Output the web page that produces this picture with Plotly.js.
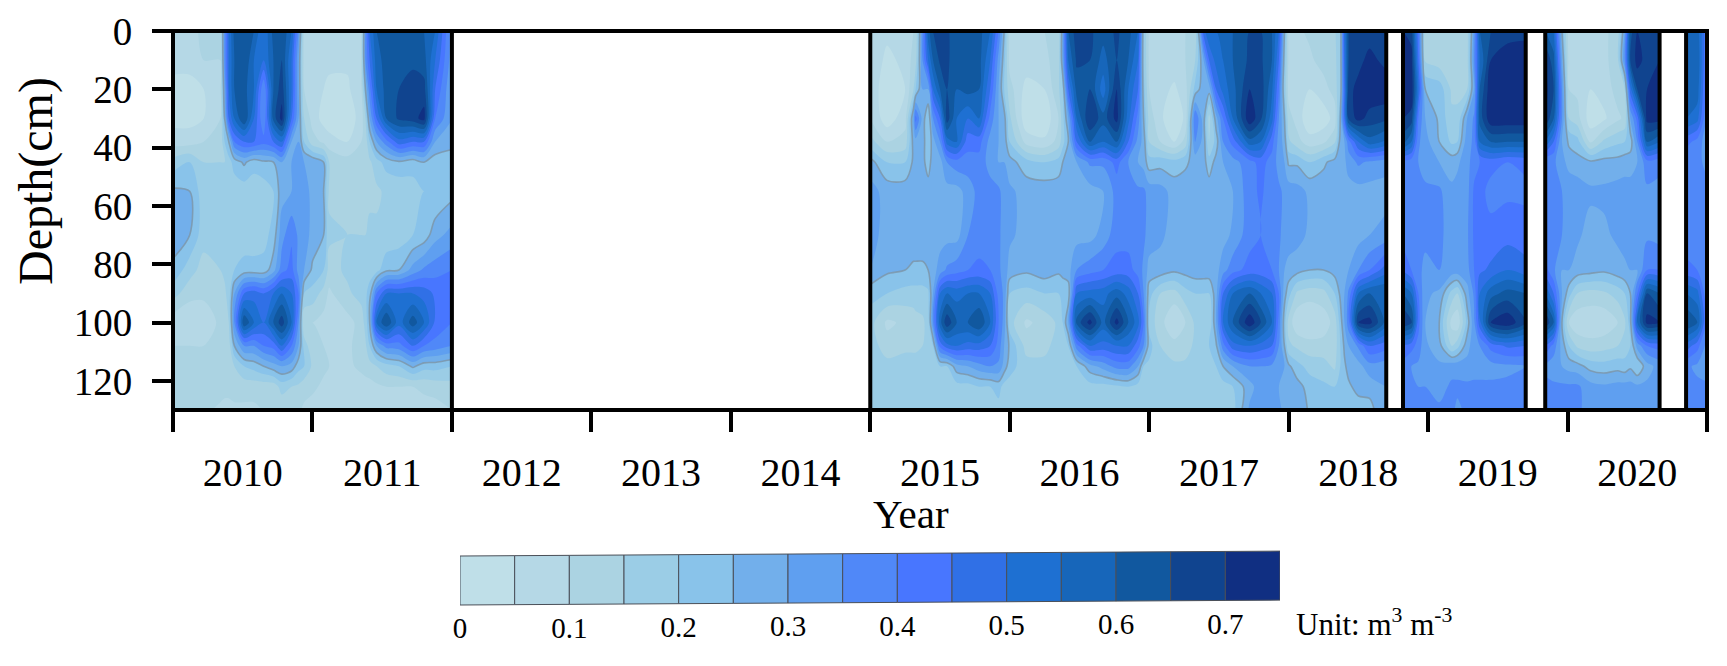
<!DOCTYPE html>
<html>
<head>
<meta charset="utf-8">
<script src="https://cdn.plot.ly/plotly-3.0.1.min.js"></script>
<style>html,body{margin:0;padding:0;background:#fff}#chart{width:1727px;height:666px}</style>
</head>
<body>
<div id="chart"></div>
<script>
// Depth of each value inside a profile (cm)
const depths = [0,10,20,30,38,45,55,70,82,90,100,108,115,122,130];

// Sampling times and soil-moisture profiles of each continuous period
const times2010 = [2010,2010.12,2010.22,2010.34,2010.37,2010.40,2010.44,2010.51,2010.58,2010.65,2010.72,2010.78,2010.85,2010.90,2010.94,2011,
  2011.08,2011.12,2011.25,2011.35,2011.38,2011.41,2011.46,2011.53,2011.62,2011.72,2011.8,2011.88,2012];
const profiles2010 = [
[.07,.07,.03,.03,.08,.17,.26,.27,.24,.17,.07,.10,.15,.12,.12],
[.07,.07,.03,.03,.08,.20,.25,.25,.17,.12,.05,.10,.12,.12,.12],
[.12,.10,.05,.05,.10,.15,.17,.17,.13,.11,.07,.10,.12,.11,.11],
[.12,.10,.09,.10,.11,.15,.17,.17,.15,.12,.11,.11,.12,.12,.09],
[.35,.35,.30,.25,.20,.15,.17,.17,.16,.14,.12,.11,.12,.11,.09],
[.50,.50,.50,.45,.25,.18,.18,.17,.17,.17,.15,.12,.12,.11,.09],
[.62,.60,.60,.55,.40,.22,.17,.17,.20,.30,.35,.25,.15,.12,.09],
[.65,.65,.62,.65,.45,.26,.17,.17,.22,.45,.65,.35,.20,.12,.09],
[.60,.55,.55,.50,.45,.22,.17,.17,.22,.48,.55,.35,.22,.12,.09],
[.50,.50,.35,.35,.42,.24,.17,.18,.22,.45,.50,.40,.25,.12,.10],
[.62,.60,.60,.62,.45,.25,.20,.22,.28,.50,.60,.42,.28,.12,.10],
[.65,.65,.68,.72,.50,.30,.28,.33,.38,.55,.68,.50,.30,.17,.11],
[.55,.50,.50,.45,.30,.30,.30,.39,.42,.50,.55,.40,.28,.15,.11],
[.35,.30,.30,.30,.30,.33,.35,.34,.33,.40,.35,.30,.22,.14,.11],
[.08,.08,.10,.15,.20,.30,.33,.33,.30,.20,.10,.18,.20,.12,.09],
[.07,.07,.07,.08,.12,.29,.28,.28,.24,.18,.10,.11,.14,.11,.08],
[.07,.07,.05,.03,.09,.25,.25,.25,.20,.13,.08,.10,.11,.09,.07],
[.07,.07,.03,.02,.07,.15,.14,.16,.13,.09,.08,.09,.10,.08,.07],
[.07,.06,.04,.02,.05,.12,.12,.15,.16,.14,.08,.09,.09,.08,.07],
[.10,.10,.09,.07,.10,.13,.13,.15,.16,.17,.12,.12,.11,.08,.07],
[.35,.35,.25,.15,.12,.13,.13,.15,.17,.19,.17,.14,.12,.08,.07],
[.50,.45,.38,.30,.20,.14,.14,.16,.18,.22,.25,.20,.13,.08,.07],
[.60,.58,.55,.45,.30,.18,.14,.16,.18,.40,.55,.30,.15,.09,.07],
[.62,.62,.62,.60,.38,.22,.16,.16,.24,.50,.65,.37,.18,.10,.08],
[.62,.62,.65,.66,.48,.24,.16,.17,.25,.50,.52,.38,.20,.10,.08],
[.62,.64,.67,.68,.45,.22,.18,.20,.32,.50,.63,.45,.26,.10,.08],
[.60,.62,.67,.72,.45,.25,.20,.22,.36,.48,.55,.40,.22,.11,.08],
[.55,.50,.45,.40,.30,.22,.20,.28,.38,.44,.44,.38,.22,.12,.08],
[.32,.32,.30,.30,.28,.20,.23,.32,.40,.42,.40,.35,.20,.13,.10]
];

const times2015 = [2015,2015.12,2015.25,2015.31,2015.325,2015.375,2015.415,2015.45,2015.5,2015.55,2015.62,2015.7,2015.78,2015.86,2015.92,2015.96,
  2016,2016.12,2016.25,2016.35,2016.38,2016.42,2016.48,2016.575,2016.67,2016.767,2016.85,2016.92,2016.96,
  2017,2017.08,2017.18,2017.26,2017.33,2017.39,2017.43,2017.48,2017.53,2017.6,2017.72,2017.8,2017.88,2017.93,2017.97,
  2018,2018.06,2018.15,2018.25,2018.33,2018.37,2018.4,2018.43,2018.5,2018.58,2018.7];
const profiles2015 = [
[.08,.08,.08,.10,.17,.27,.32,.32,.30,.22,.17,.18,.20,.18,.18],
[.06,.04,.02,.02,.10,.20,.28,.28,.26,.20,.09,.12,.17,.17,.17],
[.08,.06,.05,.08,.12,.20,.28,.28,.25,.18,.11,.14,.17,.18,.18],
[.10,.12,.15,.30,.27,.26,.28,.28,.24,.18,.12,.14,.17,.18,.18],
[.11,.13,.20,.42,.28,.26,.28,.28,.24,.18,.13,.14,.17,.18,.18],
[.35,.35,.30,.28,.28,.27,.28,.28,.24,.18,.14,.15,.17,.18,.18],
[.58,.50,.30,.20,.20,.22,.28,.28,.25,.19,.17,.16,.17,.18,.18],
[.65,.60,.50,.35,.28,.28,.28,.28,.28,.30,.35,.20,.17,.18,.18],
[.66,.66,.60,.45,.35,.28,.28,.28,.32,.50,.58,.42,.20,.18,.18],
[.66,.66,.65,.68,.52,.35,.28,.28,.36,.55,.69,.48,.20,.18,.18],
[.62,.62,.60,.55,.55,.38,.28,.28,.38,.53,.60,.50,.28,.18,.18],
[.62,.62,.62,.50,.42,.38,.32,.35,.40,.55,.60,.48,.30,.18,.18],
[.62,.62,.60,.55,.42,.38,.37,.38,.41,.55,.65,.48,.33,.20,.18],
[.55,.50,.45,.38,.33,.33,.37,.37,.40,.50,.55,.45,.35,.20,.18],
[.40,.33,.30,.30,.30,.30,.36,.36,.36,.38,.40,.38,.34,.22,.18],
[.25,.22,.20,.27,.28,.30,.33,.33,.33,.34,.33,.30,.28,.18,.18],
[.09,.08,.12,.16,.20,.27,.31,.31,.28,.20,.17,.24,.22,.18,.18],
[.10,.08,.03,.01,.08,.22,.28,.28,.26,.18,.09,.13,.17,.18,.18],
[.10,.09,.05,.01,.06,.20,.28,.28,.28,.20,.12,.13,.17,.18,.18],
[.11,.12,.14,.10,.12,.22,.28,.28,.26,.20,.16,.18,.18,.18,.18],
[.30,.30,.20,.18,.18,.25,.28,.28,.27,.21,.20,.19,.18,.18,.18],
[.60,.55,.45,.30,.25,.28,.28,.28,.28,.22,.30,.20,.18,.18,.18],
[.68,.66,.62,.55,.45,.30,.28,.28,.35,.50,.62,.38,.20,.18,.18],
[.66,.65,.65,.70,.60,.36,.28,.28,.38,.52,.72,.50,.28,.18,.18],
[.62,.58,.52,.62,.55,.36,.30,.32,.40,.53,.58,.48,.32,.18,.18],
[.66,.65,.70,.72,.60,.42,.37,.38,.42,.58,.72,.50,.37,.19,.18],
[.62,.60,.55,.52,.45,.35,.37,.38,.42,.53,.60,.50,.37,.20,.18],
[.55,.50,.45,.38,.33,.30,.36,.37,.38,.45,.52,.42,.30,.18,.18],
[.20,.20,.22,.25,.28,.28,.36,.36,.34,.35,.40,.35,.20,.18,.18],
[.09,.09,.10,.13,.15,.22,.33,.33,.28,.22,.18,.22,.19,.18,.18],
[.10,.09,.07,.06,.10,.23,.32,.31,.28,.15,.12,.15,.16,.18,.18],
[.10,.08,.04,.01,.05,.22,.28,.28,.26,.13,.05,.12,.16,.18,.18],
[.10,.10,.08,.06,.12,.24,.28,.28,.27,.18,.10,.13,.16,.18,.18],
[.11,.15,.22,.40,.35,.27,.28,.28,.28,.20,.16,.16,.17,.18,.18],
[.48,.30,.28,.27,.28,.27,.28,.28,.28,.20,.16,.18,.18,.18,.18],
[.55,.45,.27,.13,.15,.22,.28,.28,.28,.20,.15,.20,.18,.18,.18],
[.55,.52,.45,.28,.22,.27,.28,.28,.28,.28,.30,.24,.20,.18,.18],
[.57,.55,.52,.40,.35,.30,.28,.28,.33,.45,.50,.38,.25,.18,.18],
[.60,.60,.58,.55,.42,.33,.30,.31,.38,.55,.60,.48,.30,.20,.18],
[.65,.66,.70,.74,.58,.38,.38,.38,.42,.60,.74,.50,.35,.28,.31],
[.65,.66,.68,.66,.55,.42,.41,.40,.42,.55,.65,.48,.35,.33,.33],
[.60,.60,.56,.52,.42,.38,.37,.37,.40,.50,.55,.45,.34,.33,.33],
[.50,.45,.40,.35,.33,.33,.36,.36,.35,.40,.38,.35,.33,.30,.32],
[.25,.22,.20,.25,.28,.30,.34,.33,.30,.27,.22,.25,.30,.28,.28],
[.09,.09,.08,.12,.16,.24,.33,.33,.28,.22,.13,.16,.26,.30,.30],
[.09,.09,.08,.08,.12,.24,.32,.32,.27,.14,.06,.14,.22,.27,.30],
[.11,.09,.05,.01,.07,.20,.29,.29,.25,.12,.05,.12,.18,.23,.24],
[.13,.12,.08,.02,.09,.24,.28,.28,.25,.13,.07,.12,.17,.21,.21],
[.14,.13,.12,.07,.14,.27,.28,.28,.27,.20,.12,.12,.14,.20,.21],
[.20,.20,.20,.25,.27,.28,.28,.28,.28,.26,.22,.20,.20,.22,.21],
[.50,.48,.45,.45,.30,.29,.28,.28,.29,.30,.30,.26,.24,.23,.22],
[.65,.65,.68,.66,.38,.32,.28,.28,.30,.36,.38,.30,.27,.24,.22],
[.67,.68,.72,.72,.50,.36,.28,.28,.35,.55,.70,.36,.28,.27,.22],
[.67,.72,.74,.68,.58,.34,.28,.30,.40,.60,.72,.45,.33,.27,.23],
[.67,.68,.74,.66,.54,.32,.28,.32,.48,.60,.58,.42,.32,.30,.30]
];

const times2019 = [2018.82,2018.88,2018.93,2018.98,2019.08,2019.17,2019.21,2019.28,2019.33,2019.37,2019.45,2019.57,2019.7];
const profiles2019 = [
[.70,.72,.74,.70,.62,.38,.36,.38,.44,.60,.70,.44,.38,.36,.36],
[.68,.72,.74,.68,.55,.37,.36,.37,.40,.55,.66,.42,.35,.36,.36],
[.42,.45,.50,.40,.36,.35,.36,.36,.36,.40,.42,.38,.34,.35,.36],
[.12,.14,.25,.30,.32,.33,.36,.36,.34,.31,.30,.31,.32,.35,.36],
[.12,.12,.23,.24,.25,.30,.36,.36,.35,.29,.25,.27,.31,.33,.36],
[.12,.12,.14,.16,.19,.28,.31,.33,.33,.18,.08,.15,.33,.36,.36],
[.12,.12,.14,.16,.20,.29,.32,.33,.33,.15,.06,.18,.33,.36,.34],
[.13,.13,.15,.30,.33,.33,.33,.34,.33,.28,.22,.28,.32,.36,.36],
[.32,.35,.30,.36,.36,.38,.41,.41,.40,.36,.34,.33,.33,.36,.36],
[.60,.55,.60,.62,.55,.40,.42,.42,.44,.50,.48,.35,.33,.36,.36],
[.65,.70,.74,.74,.60,.42,.38,.42,.46,.58,.70,.42,.33,.36,.36],
[.67,.74,.74,.74,.60,.40,.39,.43,.50,.62,.74,.46,.34,.36,.36],
[.68,.74,.74,.74,.60,.41,.39,.42,.47,.60,.65,.45,.35,.36,.36]
];

const times2020 = [2019.84,2019.9,2019.96,2020.01,2020.07,2020.165,2020.26,2020.36,2020.41,2020.45,2020.5,2020.57,2020.66];
const profiles2020 = [
[.60,.70,.72,.70,.55,.35,.38,.38,.42,.55,.70,.45,.34,.36,.36],
[.55,.62,.65,.60,.45,.36,.37,.37,.36,.45,.60,.38,.32,.36,.36],
[.25,.30,.35,.35,.30,.32,.35,.35,.30,.30,.25,.28,.30,.36,.36],
[.07,.08,.10,.15,.24,.28,.34,.33,.30,.22,.10,.20,.28,.36,.36],
[.06,.07,.09,.12,.22,.27,.33,.31,.28,.15,.06,.14,.27,.36,.36],
[.07,.07,.05,.02,.09,.26,.31,.28,.27,.13,.06,.12,.23,.32,.33],
[.09,.08,.07,.04,.16,.27,.31,.29,.26,.14,.06,.13,.22,.31,.33],
[.12,.14,.12,.09,.19,.27,.32,.31,.28,.17,.10,.15,.23,.32,.33],
[.30,.35,.15,.11,.20,.28,.32,.32,.29,.20,.14,.17,.22,.32,.33],
[.63,.65,.48,.30,.22,.28,.32,.32,.30,.25,.23,.20,.24,.32,.33],
[.70,.72,.65,.42,.35,.30,.32,.32,.30,.40,.55,.32,.20,.31,.33],
[.66,.68,.70,.72,.60,.38,.34,.34,.40,.65,.72,.40,.28,.31,.33],
[.66,.70,.72,.72,.55,.36,.34,.33,.40,.60,.70,.42,.32,.31,.33]
];

const times2021 = [2020.85,2020.93,2021];
const profiles2021 = [
[.58,.60,.60,.55,.42,.36,.36,.36,.42,.55,.65,.48,.36,.36,.36],
[.58,.60,.58,.52,.38,.36,.36,.36,.40,.52,.60,.42,.34,.36,.36],
[.40,.38,.36,.34,.32,.34,.36,.36,.36,.35,.38,.33,.32,.36,.36]
];

// Unmeasured periods, drawn as boxed blanks
const gapStarts = [2012,2018.7,2019.7,2020.66];
const gapEnds   = [2015,2018.82,2019.84,2020.85];

// Axis labels
const yearTicks = [2010,2011,2012,2013,2014,2015,2016,2017,2018,2019,2020,2021];
const yearLabels = ['2010','2011','2012','2013','2014','2015','2016','2017','2018','2019','2020'];
const depthTicks = [0,20,40,60,80,100,120];

// Colour classes
const levelStep = 0.05;
const levelColors = ['#BFDFE8','#B5D8E6','#ABD3E2','#9BCDE6','#89C3EA','#72AFEB','#5F9FF0','#5088F8','#4876FF','#3070E6','#1E70D2','#1766BA','#11589F','#10448F','#102F82'];
const keyLabels = [0,0.1,0.2,0.3,0.4,0.5,0.6,0.7];

const FONT = 'Liberation Serif, Times New Roman, serif';
const W = 1727, H = 666;
const DX = [173/W,1707/W], DY = [1-410/H,1-31/H];
const zMax = levelColors.length * levelStep;
const colorscale = levelColors.map((c,i)=>[(i+0.5)/levelColors.length,c]);
colorscale.unshift([0,levelColors[0]]);
colorscale.push([1,levelColors[levelColors.length-1]]);

const transpose = cols => depths.map((_,r)=>cols.map(c=>c[r]));
const periods = [[times2010,profiles2010],[times2015,profiles2015],[times2019,profiles2019],[times2020,profiles2020],[times2021,profiles2021]];

const traces = [];
periods.forEach(([t,p])=>{
  const z = transpose(p);
  traces.push({type:'contour',x:t,y:depths,z:z,zmin:0,zmax:zMax,zauto:false,colorscale:colorscale,showscale:false,
    autocontour:false,contours:{start:0,end:zMax,size:levelStep,coloring:'fill',showlines:false},
    line:{width:0,smoothing:0.85},hoverinfo:'skip'});
  traces.push({type:'contour',x:t,y:depths,z:z,showscale:false,autocontour:false,
    contours:{start:0.25,end:0.25,size:levelStep,coloring:'none'},
    line:{width:1.6,color:'rgba(125,150,170,0.85)',smoothing:0.85},hoverinfo:'skip'});
});

// Colour key: tilted cells, on their own hidden axes
const TILT = 6.5;
levelColors.forEach((c,i)=>{
  const a=i*levelStep,b=(i+1)*levelStep;
  traces.push({type:'scatter',mode:'lines',x:[a,b,b,a,a],
    y:[6-TILT*a,6-TILT*b,55-TILT*b,55-TILT*a,6-TILT*a],fill:'toself',fillcolor:c,
    line:{color:'#4a4f58',width:1},xaxis:'x2',yaxis:'y2',hoverinfo:'skip',showlegend:false});
});
traces.push({type:'scatter',mode:'text',x:keyLabels,y:keyLabels.map(v=>81-TILT*v),cliponaxis:false,
  text:keyLabels.map(String),textposition:'middle center',textfont:{family:FONT,size:29,color:'#000'},
  xaxis:'x2',yaxis:'y2',hoverinfo:'skip',showlegend:false});

// Frame (paper-referenced so it is not clipped) and period boundaries
const shapes = [{type:'rect',xref:'paper',yref:'paper',x0:DX[0],x1:DX[1],y0:DY[0],y1:DY[1],line:{color:'#000',width:4},fillcolor:'rgba(0,0,0,0)',layer:'above'}];
gapStarts.forEach((s,i)=>{
  [s,gapEnds[i]].forEach(v=>shapes.push({type:'line',xref:'x',yref:'y',x0:v,x1:v,y0:0,y1:130,line:{color:'#000',width:4},layer:'above'}));
});

const layout = {
  width:W,height:H,autosize:false,showlegend:false,
  margin:{l:0,r:0,t:0,b:0,pad:0},paper_bgcolor:'#fff',plot_bgcolor:'#fff',
  font:{family:FONT,color:'#000'},
  xaxis:{domain:DX,range:[2010,2021],tickmode:'array',
    tickvals:yearLabels.map(s=>+s+0.5),ticktext:yearLabels,ticks:'outside',ticklen:21,tickwidth:1,tickcolor:'rgba(0,0,0,0)',
    ticklabelstandoff:6,tickfont:{family:FONT,size:40},showgrid:false,zeroline:false,showline:false,anchor:'y',
    minor:{tickmode:'array',tickvals:yearTicks,ticks:'outside',ticklen:21,tickwidth:4,tickcolor:'#000',showgrid:false}},
  yaxis:{domain:DY,range:[130,0],tickmode:'array',tickvals:depthTicks,ticks:'outside',ticklen:20,tickwidth:4,tickcolor:'#000',
    ticklabelstandoff:12,tickfont:{family:FONT,size:39},showgrid:false,zeroline:false,showline:false,anchor:'x'},
  xaxis2:{domain:[460/W,1280/W],range:[0,0.75],visible:false,anchor:'y2',fixedrange:true},
  yaxis2:{domain:[1-650/H,1-550/H],range:[100,0],visible:false,anchor:'x2',fixedrange:true},
  shapes:shapes,
  annotations:[
    {xref:'paper',yref:'paper',x:911/W,y:1-514/H,text:'Year',showarrow:false,font:{family:FONT,size:41,color:'#000'},xanchor:'center',yanchor:'middle'},
    {xref:'paper',yref:'paper',x:36/W,y:1-181/H,text:'Depth(cm)',textangle:-90,showarrow:false,font:{family:FONT,size:48,color:'#000'},xanchor:'center',yanchor:'middle'},
    {xref:'paper',yref:'paper',x:1294/W,y:1-622/H,text:'Unit: m<sup>3</sup> m<sup>-3</sup>',showarrow:false,font:{family:FONT,size:31,color:'#000'},xanchor:'left',yanchor:'middle'}
  ]
};
Plotly.newPlot('chart',traces,layout,{staticPlot:true,displayModeBar:false,responsive:false});
</script>
</body>
</html>
